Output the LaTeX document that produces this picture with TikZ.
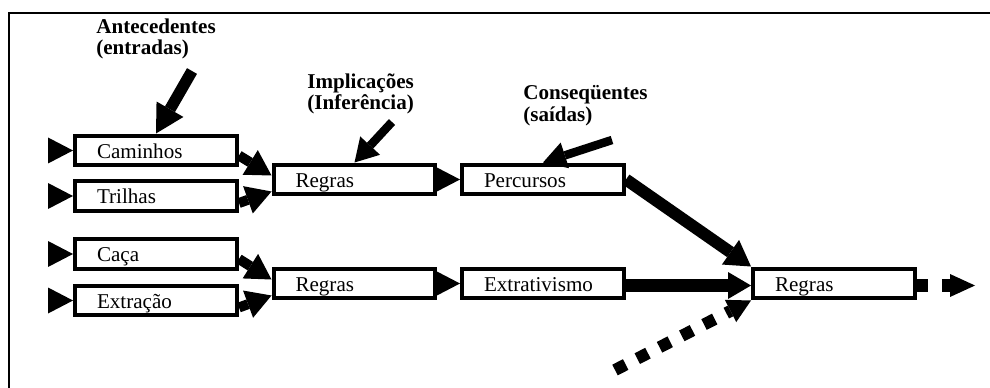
\documentclass[tikz,border=0pt]{standalone}
\usepackage{fontspec}
\setmainfont{Liberation Serif}
\usetikzlibrary{arrows.meta}

\begin{document}
\begin{tikzpicture}[x=0.02cm,y=-0.02cm,
  box/.style={draw, line width=0.08cm, minimum width=3.24cm, minimum height=0.6cm,
    text width=2.36cm, align=left, inner xsep=0.44cm, inner ysep=0pt,
    text height=9.5pt, text depth=0.5pt, font=\fontsize{12}{14}\selectfont},
  lbl/.style={align=left, anchor=west, inner sep=0pt, font=\fontsize{12}{12.3}\selectfont\bfseries},
  inhead/.style={line width=0.4pt, -{Triangle[length=0.5cm,width=0.52cm,line width=0pt]}},
  feed/.style={line width=0.2cm, -{Triangle[length=0.5cm,width=0.58cm,line width=0pt]}},
  hint/.style={line width=0.17cm, -{Triangle[length=0.46cm,width=0.54cm,line width=0pt]}},
  bigfeed/.style={line width=0.23cm, -{Triangle[length=0.56cm,width=0.62cm,line width=0pt]}},
  heavy/.style={line width=0.24cm, -{Triangle[length=0.5cm,width=0.6cm,line width=0pt]}},
  dotfeed/.style={line width=0.24cm, dash pattern=on 0.24cm off 0.26cm,
    -{Triangle[length=0.46cm,width=0.5cm,line width=0pt]}},
  outfeed/.style={line width=0.26cm, dash pattern=on 0.22cm off 0.28cm,
    -{Triangle[length=0.5cm,width=0.46cm,line width=0pt]}}]
\useasboundingbox (0,0) rectangle (990,388);
\draw[line width=0.04cm] (9,388) -- (9,13) -- (990,13);
%%%%%%%%%%%%%%%%
\node[box] (cam) at (156,150.5) {Caminhos};
\node[box] (tri) at (156,196) {Trilhas};
\node[box] (cac) at (156,254) {Caça};
\node[box] (ext) at (156,300.5) {Extração};
%%%%%%%%%%%%%%%%
\node[box] (reg1) at (354.5,179.5) {Regras};
\node[box] (perc) at (543,179.5) {Percursos};
\node[box] (reg2) at (354.5,283.5) {Regras};
\node[box] (extr) at (543,283.5) {Extrativismo};
\node[box] (reg3) at (834,283.5) {Regras};
%%%%%%%%%%%%%%%%
\node[lbl] (lantec) at (96,39) {Antecedentes\\(entradas)};
\node[lbl] (limpl) at (307,94) {Implicações\\(Inferência)};
\node[lbl] (lconseq) at (523,106) {Conseqüentes\\(saídas)};
%%%%%%%%%%%%%%%%
\coordinate (incam) at (48,150.5);
\coordinate (intri) at (48,196);
\coordinate (incac) at (48,254);
\coordinate (inext) at (48,300.5);
\draw[inhead] (incam) -- (cam.west);
\draw[inhead] (intri) -- (tri.west);
\draw[inhead] (incac) -- (cac.west);
\draw[inhead] (inext) -- (ext.west);
%%%%%%%%%%%%%%%%
\draw[feed] ([shift={(0,5)}]cam.east) -- ([shift={(0,-4)}]reg1.west);
\draw[feed] ([shift={(0,7)}]tri.east) -- ([shift={(0,12)}]reg1.west);
\draw[feed] ([shift={(0,5)}]cac.east) -- ([shift={(0,-4)}]reg2.west);
\draw[feed] ([shift={(0,7)}]ext.east) -- ([shift={(0,12)}]reg2.west);
\draw[inhead] (reg1.east) -- (perc.west);
\draw[inhead] (reg2.east) -- (extr.west);
%%%%%%%%%%%%%%%%
\coordinate (antec) at (192,71);
\coordinate (impl) at (392,122);
\coordinate (conseq) at (612,140);
\draw[bigfeed] (antec) -- (cam.north);
\draw[hint] (impl) -- (reg1.north);
\draw[hint] (conseq) -- (perc.north);
%%%%%%%%%%%%%%%%
\draw[heavy] (perc.east) -- (reg3.north west);
\draw[line width=0.26cm, -{Triangle[length=0.46cm,width=0.54cm,line width=0pt]}]
  ([shift={(0,2)}]extr.east) -- ([shift={(0,2)}]reg3.west);
\coordinate (outside) at (615,370);
\draw[dotfeed] (outside) -- (reg3.south west);
\coordinate (outreg) at (975,285.5);
\draw[outfeed] ([shift={(0,2)}]reg3.east) -- (outreg);
\end{tikzpicture}
\end{document}
